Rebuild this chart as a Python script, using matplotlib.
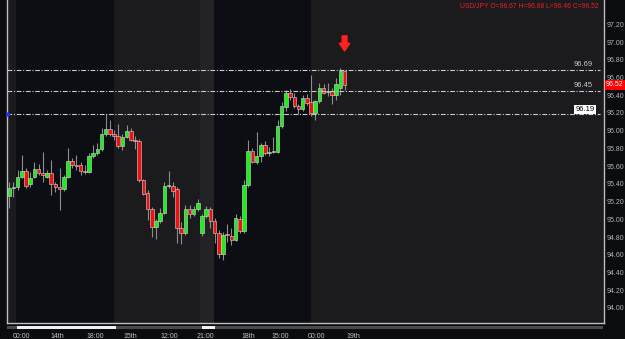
import matplotlib
matplotlib.use("Agg")
import matplotlib.pyplot as plt
import matplotlib.transforms as mtrans
import numpy as np

# ---- data (USD/JPY candles) ----
opens = [95.26, 95.35, 95.37, 95.48, 95.54, 95.40, 95.48, 95.57, 95.52, 95.48,
         95.52, 95.40, 95.36, 95.34, 95.48, 95.66, 95.61, 95.61, 95.55, 95.53,
         95.71, 95.75, 95.79, 95.96, 96.02, 95.96, 95.94, 95.83, 95.93, 96.00,
         95.90, 95.88, 95.44, 95.30, 95.12, 94.91, 94.98, 95.07, 95.38, 95.38,
         95.34, 94.90, 94.84, 95.12, 95.06, 95.12, 94.84, 95.04, 95.12, 94.98,
         94.85, 94.61, 94.83, 94.81, 94.77, 95.00, 94.87, 95.39, 95.77, 95.65,
         95.71, 95.84, 95.75, 95.76, 95.76, 96.05, 96.27, 96.43, 96.38, 96.28,
         96.24, 96.37, 96.32, 96.20, 96.33, 96.48, 96.44, 96.45, 96.40, 96.48,
         96.67]
highs = [95.42, 95.42, 95.56, 95.73, 95.58, 95.53, 95.65, 95.62, 95.76, 95.56,
         95.67, 95.42, 95.58, 95.50, 95.80, 95.69, 95.73, 95.65, 95.61, 95.75,
         95.84, 95.86, 96.03, 96.19, 96.12, 96.01, 96.08, 95.96, 96.07, 96.03,
         95.94, 95.91, 95.46, 95.33, 95.14, 95.00, 95.13, 95.42, 95.54, 95.42,
         95.36, 94.97, 95.16, 95.16, 95.15, 95.23, 95.06, 95.15, 95.14, 95.01,
         94.88, 94.86, 94.95, 94.90, 95.06, 95.04, 95.44, 95.90, 95.80, 95.99,
         95.86, 95.88, 95.82, 95.93, 96.12, 96.32, 96.46, 96.47, 96.43, 96.30,
         96.40, 96.41, 96.63, 96.35, 96.54, 96.53, 96.54, 96.48, 96.60, 96.71,
         96.68]
lows = [95.13, 95.25, 95.33, 95.47, 95.35, 95.37, 95.47, 95.50, 95.42, 95.47,
        95.27, 95.31, 95.10, 95.32, 95.47, 95.58, 95.56, 95.50, 95.51, 95.52,
        95.69, 95.73, 95.77, 95.94, 95.94, 95.90, 95.80, 95.78, 95.92, 95.88,
        95.79, 95.42, 95.27, 94.99, 94.80, 94.78, 94.96, 95.06, 95.35, 95.25,
        94.73, 94.72, 94.82, 95.01, 95.04, 95.09, 94.81, 95.01, 94.90, 94.73,
        94.56, 94.54, 94.74, 94.71, 94.76, 94.85, 94.85, 95.37, 95.64, 95.62,
        95.65, 95.73, 95.71, 95.75, 95.75, 96.03, 96.22, 96.35, 96.26, 96.19,
        96.22, 96.29, 96.17, 96.12, 96.31, 96.41, 96.39, 96.30, 96.35, 96.40,
        96.46]
closes = [95.35, 95.37, 95.48, 95.54, 95.38, 95.47, 95.57, 95.52, 95.50, 95.52,
          95.40, 95.36, 95.34, 95.48, 95.66, 95.61, 95.60, 95.55, 95.53, 95.71,
          95.75, 95.79, 95.96, 96.02, 95.96, 95.94, 95.83, 95.93, 96.00, 95.90,
          95.88, 95.44, 95.29, 95.12, 94.91, 94.98, 95.07, 95.38, 95.39, 95.32,
          94.90, 94.84, 95.12, 95.06, 95.12, 95.18, 95.04, 95.12, 94.98, 94.85,
          94.61, 94.82, 94.82, 94.77, 95.02, 94.87, 95.39, 95.77, 95.65, 95.71,
          95.84, 95.75, 95.76, 95.77, 96.05, 96.28, 96.42, 96.38, 96.28, 96.24,
          96.37, 96.31, 96.20, 96.33, 96.48, 96.43, 96.44, 96.40, 96.53, 96.67,
          96.52]

x_tick_pos = [2.8, 11.4, 20.5, 29.0, 38.1, 46.7, 57.0, 64.6, 73.4, 82.0]
x_tick_labels = ["00:00", "14th", "18:00", "15th", "12:00", "21:00", "18th", "15:00", "00:00", "19th"]
y_ticks = [94.00, 94.20, 94.40, 94.60, 94.80, 95.00, 95.20, 95.40, 95.60, 95.80,
           96.00, 96.20, 96.40, 96.60, 96.80, 97.00, 97.20]
level_lines = [96.69, 96.45, 96.19]
level_labels = ["96.69", "96.45", "96.19"]
last_price = 96.52
light_bands = [(-0.6, 1.6), (25.0, 45.5), (72.0, 142.0)]
mid_bands = [(45.5, 48.85)]
session_marks = [(1.84, 25.5), (46.0, 49.1)]
title = "USD/JPY O=96.67 H=96.68 L=96.46 C=96.52"

W, H = 625, 339
BG = "#0b0c10"
FONT = "Liberation Sans"
fig = plt.figure(figsize=(W / 100, H / 100), dpi=100, facecolor=BG)
ax = fig.add_axes([7 / W, 16 / H, 597 / W, 323 / H])
ax.set_facecolor("#0d0e13")
xlo, xhi = -0.55, 141.9
ylo, yhi = 93.83, 97.475
ax.set_xlim(xlo, xhi)
ax.set_ylim(ylo, yhi)

for a, b in light_bands:
    ax.axvspan(a, b, color="#1b1b1d", lw=0, zorder=0)
for a, b in mid_bands:
    ax.axvspan(a, b, color="#232325", lw=0, zorder=0)

x = np.arange(len(opens))
o = np.array(opens); c = np.array(closes)
hi = np.array(highs); lo = np.array(lows)
up = c >= o
ax.vlines(x, lo, hi, color="#8c8c8c", lw=0.8, zorder=2)
body_bottom = np.minimum(o, c)
body_h = np.maximum(np.abs(c - o), 0.008)
colors = np.where(up, "#18f018", "#f01010")
ax.bar(x, body_h, bottom=body_bottom, width=0.85, color=colors,
       edgecolor="#d8d8d8", linewidth=0.4, zorder=3)

blend = mtrans.blended_transform_factory(ax.transAxes, ax.transData)
def px(p):
    return (p - 7) / 597

# level lines
for lv in level_lines:
    ax.axhline(lv, xmin=0, xmax=px(600), color="#c8c8c8", lw=0.8,
               dashes=(4.3, 1.5, 1.0, 1.5), zorder=4)
for lv, lab in zip(level_lines[:2], level_labels[:2]):
    ax.text(px(593), lv + 0.02, lab, transform=blend, fontsize=5.5,
            color="#c8c8c8", ha="right", va="bottom", family=FONT, zorder=6)
ax.text(px(585), level_lines[2] + 0.012, level_labels[2], transform=blend, fontsize=5.5,
        color="#000000", ha="center", va="bottom", family=FONT,
        bbox=dict(boxstyle="square,pad=0.15", fc="#ffffff", ec="none"), zorder=6)
ax.plot([px(8)], [level_lines[2]], marker=">", ms=2.5, color="#2030ff", transform=blend,
        clip_on=False, zorder=6)

# title
ax.text(px(599), 1 - 6 / 323, title, transform=ax.transAxes, fontsize=4.9,
        color="#e8202a", ha="right", va="center", family=FONT)

# arrow marker over last bar
ax.annotate("", xy=(80, 96.90), xytext=(80, 97.07),
            arrowprops=dict(arrowstyle="simple,head_length=0.55,head_width=0.75,tail_width=0.35",
                            color="#ff2020", shrinkA=0, shrinkB=0), zorder=7)

# axes styling
for s in ["left", "bottom", "right"]:
    ax.spines[s].set_color("#bdbdbd")
    ax.spines[s].set_linewidth(1.0)
ax.spines["top"].set_visible(False)
ax.yaxis.tick_right()
ax.set_yticks(y_ticks)
ax.set_yticklabels([f"{v:.2f}" for v in y_ticks])
ax.tick_params(axis="y", length=0, pad=2, labelsize=5, labelcolor="#b4b4b4")
ax.set_xticks(x_tick_pos)
ax.set_xticklabels(x_tick_labels)
ax.tick_params(axis="x", length=0, pad=7, labelsize=5, labelcolor="#c4c4c4")
for t in ax.get_xticklabels() + ax.get_yticklabels():
    t.set_family(FONT)

# current price box
ax.text(1 + 2 / 597, last_price, f"{last_price:.2f}", transform=blend, fontsize=5,
        color="#ffffff", ha="left", va="center", family=FONT,
        bbox=dict(boxstyle="square,pad=0.2", fc="#ff0000", ec="none"), zorder=8,
        clip_on=False)

# session bar under the chart
bar_ax = fig.add_axes([7 / W, (339 - 329) / H, 596 / W, 3 / H])
bar_ax.set_facecolor("#4a4a4a")
bar_ax.set_xlim(xlo, xhi)
bar_ax.set_ylim(0, 1)
for a, b in session_marks:
    bar_ax.axvspan(a, b, color="#f0f0f0", lw=0)
bar_ax.set_xticks([]); bar_ax.set_yticks([])
for s in bar_ax.spines.values():
    s.set_visible(False)

fig.savefig("out.png", dpi=100, facecolor=BG)
